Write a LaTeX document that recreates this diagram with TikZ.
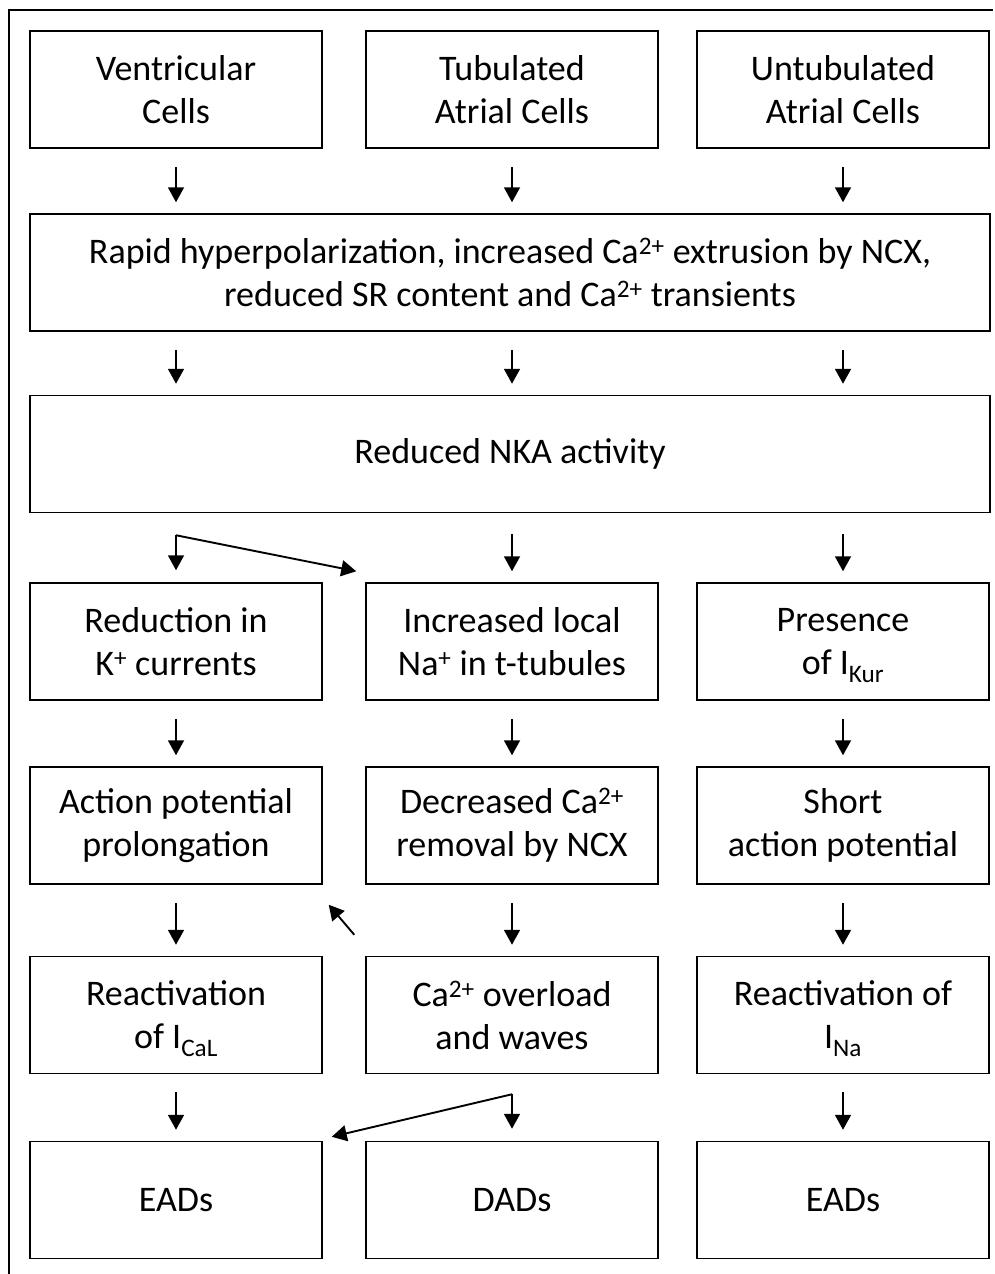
\documentclass[tikz,border=0pt]{standalone}
\usepackage{fontspec}
\setmainfont{Carlito}
\usetikzlibrary{calc,arrows.meta}

\begin{document}
\begin{tikzpicture}[x=1pt,y=-1pt,
  box/.style={draw,line width=1.5pt,minimum width=292pt,minimum height=117pt,
    inner sep=0pt,align=center,font=\fontsize{36}{43}\selectfont},
  wide/.style={box,minimum width=960pt},
  arr/.style={line width=1.9pt,-{Triangle[length=15pt,width=16pt]}},
  down/.style={arr,shorten <=18pt,shorten >=11pt}]
  \useasboundingbox (0,0) rectangle (995,1274);

  % frame (only left and top edge show)
  \draw[line width=1.6pt] (9,1274) -- (9,10) -- (993,10);

  % cell types
  \node[box] (vent) at (176,89.5) {Ventricular\\Cells};
  \node[box] (tub)  at (512,89.5) {Tubulated\\Atrial Cells};
  \node[box] (untub) at (843,89.5) {Untubulated\\Atrial Cells};

  % common steps
  \node[wide] (hyp) at (510,272.5) {Rapid hyperpolarization, increased Ca\textsuperscript{2+} extrusion by NCX,\\reduced SR content and Ca\textsuperscript{2+} transients};
  \node[wide] (nka) at (510,454) {Reduced NKA activity};

  % row 4
  \node[box] (kred) at (176,641.5) {Reduction in\\K\textsuperscript{+} currents};
  \node[box] (nal)  at (512,641.5) {Increased local\\Na\textsuperscript{+} in t-tubules};
  \node[box] (ikur) at (843,641.5) {Presence\\of I\smash{\textsubscript{Kur}}};

  % row 5
  \node[box] (approl) at (176,825.5) {Action potential\\prolongation};
  \node[box] (ncxdec) at (512,825.5) {Decreased Ca\textsuperscript{2+}\\removal by NCX};
  \node[box] (shortap) at (843,825.5) {Short\\action potential};

  % row 6
  \node[box] (ical)   at (176,1015) {Reactivation\\of I\smash{\textsubscript{CaL}}};
  \node[box] (caover) at (512,1015) {Ca\textsuperscript{2+} overload\\and waves};
  \node[box] (ina)    at (843,1015) {Reactivation of\\I\smash{\textsubscript{Na}}};

  % afterdepolarizations
  \node[box] (eadv) at (176,1200) {EADs};
  \node[box] (dad)  at (512,1200) {DADs};
  \node[box] (eada) at (843,1200) {EADs};

  % arrows
  \foreach \c in {vent,tub,untub}{
    \draw[down] (\c.south) -- (\c.south |- hyp.north);
    \draw[down] (\c.south |- hyp.south) -- (\c.south |- nka.north);
  }
  \coordinate (kink) at ($(vent.south |- nka.south)+(0,22)$);
  \draw[arr] (kink) -- ($(kred.north)+(0,-12)$);
  \draw[arr] (kink) -- ($(nal.north west)+(-9,-11)$);
  \draw[down,shorten <=21pt] (nka.south -| nal.north) -- (nal.north);
  \draw[down,shorten <=21pt] (nka.south -| ikur.north) -- (ikur.north);

  \foreach \a/\b in {kred/approl,nal/ncxdec,ikur/shortap,
                     approl/ical,ncxdec/caover,shortap/ina,
                     ical/eadv,ina/eada}{
    \draw[down] (\a.south) -- (\b.north);
  }
  \draw[arr] ($(caover.north west)+(-11,-21)$) -- ($(approl.south east)+(6,20)$);

  \coordinate (kink2) at ($(caover.south)+(0,20)$);
  \draw[arr] (kink2) -- ($(dad.north)+(0,-12)$);
  \draw[arr] (kink2) -- ($(eadv.north east)+(9,-4)$);
\end{tikzpicture}
\end{document}
